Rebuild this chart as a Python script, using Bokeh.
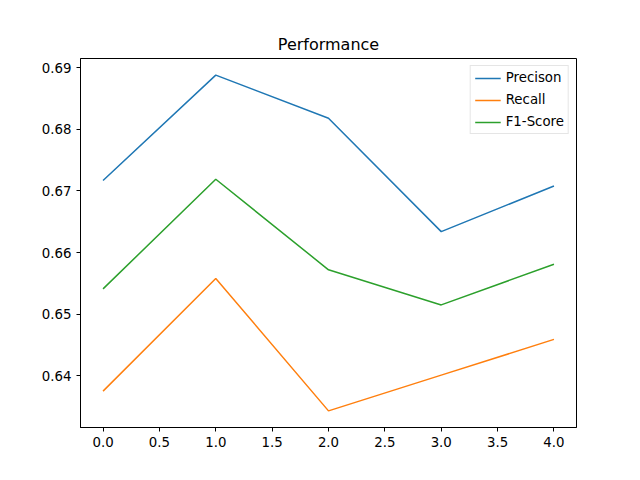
from bokeh.plotting import figure
from bokeh.embed import file_html
from bokeh.resources import INLINE
from bokeh.models import FixedTicker, NumeralTickFormatter, Range1d

x = [0, 1, 2, 3, 4]
precision = [0.6717, 0.6888, 0.6818, 0.6634, 0.6708]
recall = [0.6375, 0.6558, 0.6343, 0.6401, 0.6459]
f1 = [0.6541, 0.6719, 0.6572, 0.6515, 0.6581]
xticks = [0, 0.5, 1, 1.5, 2, 2.5, 3, 3.5, 4]
yticks = [0.64, 0.65, 0.66, 0.67, 0.68, 0.69]

p = figure(width=624, height=464, output_backend="svg", toolbar_location=None,
           title="Performance", x_range=Range1d(-0.2, 4.2), y_range=Range1d(0.6316, 0.6915),
           min_border_left=80, min_border_right=48, min_border_top=58, min_border_bottom=37)
p.title.align = "center"
p.title.text_font_size = "12pt"
p.title.text_font_style = "normal"
p.title.text_font = "DejaVu Sans"
p.title.text_color = "black"
p.line(x, precision, color="#1f77b4", line_width=1.5, legend_label="Precison")
p.line(x, recall, color="#ff7f0e", line_width=1.5, legend_label="Recall")
p.line(x, f1, color="#2ca02c", line_width=1.5, legend_label="F1-Score")
p.xaxis.ticker = FixedTicker(ticks=xticks)
p.yaxis.ticker = FixedTicker(ticks=yticks)
p.xaxis.formatter = NumeralTickFormatter(format="0.0")
p.yaxis.formatter = NumeralTickFormatter(format="0.00")
for ax in [p.xaxis, p.yaxis]:
    ax.minor_tick_line_color = None
    ax.major_label_text_font = "DejaVu Sans"
    ax.major_label_text_font_size = "10pt"
    ax.major_label_text_color = "black"
    ax.major_tick_in = 0
    ax.major_tick_out = 4
    ax.axis_line_color = "black"
    ax.major_tick_line_color = "black"
p.xgrid.visible = False
p.ygrid.visible = False
p.outline_line_color = "black"
p.legend.location = "top_right"
p.legend.label_text_font = "DejaVu Sans"
p.legend.label_text_font_size = "10pt"
p.legend.label_text_color = "black"
p.legend.border_line_color = "#cccccc"
p.legend.spacing = 7
p.legend.padding = 4
p.legend.margin = 7
p.legend.label_height = 14
p.legend.glyph_height = 14
p.legend.glyph_width = 26

open("out.html", "w").write(file_html(p, INLINE))
